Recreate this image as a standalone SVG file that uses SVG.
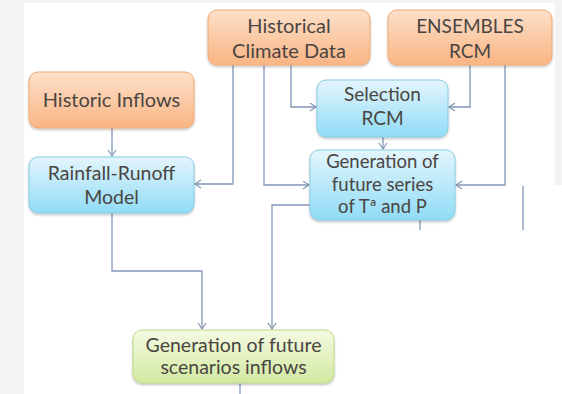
<svg xmlns="http://www.w3.org/2000/svg" width="562" height="394" viewBox="0 0 562 394">
<style>
.t{font-family:Lato,"Open Sans","Liberation Sans",sans-serif;fill:#4a4542;text-anchor:middle}
.c{fill:none;stroke:#8296b6;stroke-width:1.3}
.o{fill:url(#go);stroke:#f0aa74;stroke-width:1}
.b{fill:url(#gb);stroke:#86cbe3;stroke-width:1}
.g{fill:url(#gg);stroke:#bcd88a;stroke-width:1}
</style>
<defs>
<linearGradient id="go" x1="0" y1="0" x2="0" y2="1"><stop offset="0" stop-color="#fde0c9"/><stop offset="1" stop-color="#f9b584"/></linearGradient>
<linearGradient id="gb" x1="0" y1="0" x2="0" y2="1"><stop offset="0" stop-color="#e4f5fc"/><stop offset="1" stop-color="#90dcf6"/></linearGradient>
<linearGradient id="gg" x1="0" y1="0" x2="0" y2="1"><stop offset="0" stop-color="#f5fae3"/><stop offset="1" stop-color="#d2e9a0"/></linearGradient>
<filter id="sh" x="-10%" y="-10%" width="120%" height="130%"><feDropShadow dx="0" dy="1.5" stdDeviation="1.2" flood-color="#000" flood-opacity="0.25"/></filter>
<marker id="ar" markerWidth="10" markerHeight="10" refX="7" refY="4.5" orient="auto" markerUnits="userSpaceOnUse"><path d="M1,0.5 L7,4.5 L1,8.5" fill="none" stroke="#8296b6" stroke-width="1.2"/></marker>
</defs>
<rect x="0" y="0" width="562" height="394" fill="#f3f3f3"/>
<rect x="24" y="3" width="531" height="391" fill="#ffffff"/>
<rect x="555" y="185" width="7" height="209" fill="#ffffff"/>
<g id="connectors">
<path class="c" d="M233,65 V184 H195" marker-end="url(#ar)"/>
<path class="c" d="M264,65 V185 H309" marker-end="url(#ar)"/>
<path class="c" d="M291,65 V107 H316" marker-end="url(#ar)"/>
<path class="c" d="M470,65 V107 H449" marker-end="url(#ar)"/>
<path class="c" d="M505,65 V185 H456" marker-end="url(#ar)"/>
<path class="c" d="M383,137 V149" marker-end="url(#ar)"/>
<path class="c" d="M112,128 V156" marker-end="url(#ar)"/>
<path class="c" d="M112,213 V271 H202 V329" marker-end="url(#ar)"/>
<path class="c" d="M310,205 H272 V329" marker-end="url(#ar)"/>
<path class="c" d="M240,383 V394"/>
<path class="c" d="M420,220 V230"/>
<path class="c" d="M523,186 V230"/>
</g>
<g id="historical-climate-data">
<rect class="o" x="208" y="10" width="162" height="55" rx="9" filter="url(#sh)"/>
<text class="t" x="289" y="33" font-size="20">Historical</text>
<text class="t" x="289" y="58" font-size="20">Climate Data</text>
</g>
<g id="ensembles-rcm">
<rect class="o" x="388" y="10" width="164" height="55" rx="9" filter="url(#sh)"/>
<text class="t" x="470" y="33" font-size="19">ENSEMBLES</text>
<text class="t" x="470" y="58" font-size="19">RCM</text>
</g>
<g id="historic-inflows">
<rect class="o" x="29" y="72" width="165" height="56" rx="9" filter="url(#sh)"/>
<text class="t" x="111.5" y="107" font-size="20">Historic Inflows</text>
</g>
<g id="selection-rcm">
<rect class="b" x="317" y="80" width="131" height="57" rx="9" filter="url(#sh)"/>
<text class="t" x="382.5" y="101" font-size="19">Selection</text>
<text class="t" x="382.5" y="125" font-size="19">RCM</text>
</g>
<g id="rainfall-runoff-model">
<rect class="b" x="29" y="157" width="165" height="56" rx="9" filter="url(#sh)"/>
<text class="t" x="111.5" y="180" font-size="19.5">Rainfall-Runoff</text>
<text class="t" x="111.5" y="204" font-size="19.5">Model</text>
</g>
<g id="generation-future-series">
<rect class="b" x="310" y="150" width="145" height="70" rx="9" filter="url(#sh)"/>
<text class="t" x="382.5" y="168" font-size="18.5">Generation of</text>
<text class="t" x="382.5" y="191" font-size="18.5">future series</text>
<text class="t" x="382.5" y="213" font-size="18.5">of Tª and P</text>
</g>
<g id="generation-future-scenarios">
<rect class="g" x="133" y="330" width="201" height="53" rx="9" filter="url(#sh)"/>
<text class="t" x="233.5" y="352" font-size="19.5">Generation of future</text>
<text class="t" x="233.5" y="374" font-size="19.5">scenarios inflows</text>
</g>
</svg>
